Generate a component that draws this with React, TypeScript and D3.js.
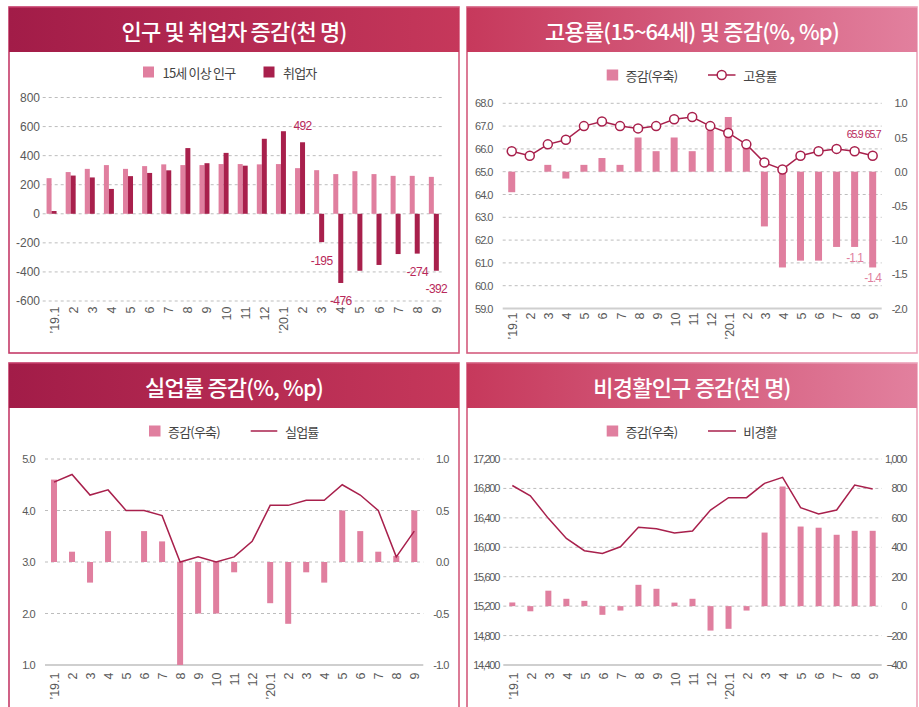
import React from 'react';
import * as d3 from 'd3';

// ---------- data ----------
const months = ['’19.1', '2', '3', '4', '5', '6', '7', '8', '9', '10', '11', '12', '’20.1', '2', '3', '4', '5', '6', '7', '8', '9'];

// panel 1: 인구 및 취업자 증감 (천 명)
const pop15 = [245, 287, 309, 335, 309, 328, 340, 335, 335, 342, 342, 340, 342, 314, 300, 273, 293, 273, 261, 261, 254];
const employed = [19, 263, 250, 171, 259, 281, 299, 452, 348, 419, 331, 516, 568, 492, -195, -476, -392, -352, -277, -274, -392];
const employedLabelIdx = [13, 14, 15, 19, 20];
const p1Ticks = [800, 600, 400, 200, 0, -200, -400, -600];

// panel 2: 고용률(15~64세) 및 증감
const empRate = [65.9, 65.7, 66.2, 66.4, 67.0, 67.2, 67.0, 66.9, 67.0, 67.3, 67.4, 67.0, 66.7, 66.2, 65.4, 65.1, 65.7, 65.9, 66.0, 65.9, 65.7];
const empRateChg = [-0.3, 0.0, 0.1, -0.1, 0.1, 0.2, 0.1, 0.5, 0.3, 0.5, 0.3, 0.6, 0.8, 0.4, -0.8, -1.4, -1.3, -1.3, -1.1, -1.1, -1.4];
const empRateLabelIdx = [19, 20];
const empChgLabelIdx = [19, 20];
const p2LeftTicks = [68, 67, 66, 65, 64, 63, 62, 61, 60, 59];
const p2RightTicks = [1.0, 0.5, 0.0, -0.5, -1.0, -1.5, -2.0];

// panel 3: 실업률 증감
const unempRate = [4.55, 4.7, 4.3, 4.4, 4.0, 4.0, 3.9, 3.0, 3.1, 3.0, 3.1, 3.4, 4.1, 4.1, 4.2, 4.2, 4.5, 4.3, 4.0, 3.1, 3.6];
const unempChg = [0.8, 0.1, -0.2, 0.3, 0.0, 0.3, 0.2, -1.0, -0.5, -0.5, -0.1, 0.0, -0.4, -0.6, -0.1, -0.2, 0.5, 0.3, 0.1, 0.06, 0.5];
const p3LeftTicks = [5, 4, 3, 2, 1];
const p3RightTicks = [1.0, 0.5, 0.0, -0.5, -1.0];

// panel 4: 비경활인구 증감 (천 명)
const inactive = [16840, 16700, 16393, 16120, 15953, 15917, 16007, 16271, 16252, 16194, 16221, 16506, 16674, 16674, 16869, 16951, 16538, 16452, 16506, 16846, 16792];
const inactiveChg = [25, -35, 105, 50, 36, -59, -30, 145, 118, 24, 50, -166, -154, -30, 500, 813, 541, 533, 485, 512, 512];
const p4LeftTicks = [17200, 16800, 16400, 16000, 15600, 15200, 14800, 14400];
const p4RightTicks = [1000, 800, 600, 400, 200, 0, -200, -400];

// ---------- styles ----------
const KR = "'Noto Sans CJK KR', 'Noto Sans', sans-serif";
const NUM = "'Liberation Sans', Arial, sans-serif";
const PINK = '#e07f9f';
const DARK = '#a8204c';
const LINE = '#a8204c';
const LABEL = '#595959';
const GRID = '#bdbdbd';
const TICK_LS = -1.0;

const idx = d3.range(months.length);

function Frame({ x, y, w, h, title }: { x: number; y: number; w: number; h: number; title: string }) {
  return (
    <g>
      <rect x={x} y={y} width={w} height={h} fill="#fff" stroke="url(#brd)" strokeWidth={1.6} />
      <rect x={x} y={y} width={w} height={45} fill="url(#hdr)" />
      <line x1={x} x2={x + w} y1={y + 0.5} y2={y + 0.5} stroke="url(#brd)" strokeWidth={1} opacity={0.8} />
      <text x={x + w / 2} y={y + 23} textAnchor="middle" dominantBaseline="central" fill="#fff"
        fontFamily={KR} fontSize={22} fontWeight={500} letterSpacing={-0.8}>{title}</text>
    </g>
  );
}

function XLabels({ x, top, dx }: { x: d3.ScaleBand<number>; top: number; dx: number }) {
  return (
    <g>
      {idx.map(i => (
        <text key={i} transform={`translate(${x(i)! + x.bandwidth() / 2 + dx},${top}) rotate(-90)`}
          textAnchor="end" dominantBaseline="central" fill={LABEL} fontFamily={NUM} fontSize={12.5}>
          {months[i]}
        </text>
      ))}
    </g>
  );
}

function Grid({ ticks, y, x1, x2, solidBottom }: { ticks: number[]; y: (v: number) => number; x1: number; x2: number; solidBottom?: number }) {
  return (
    <g>
      {ticks.map(t => (
        t === solidBottom ? (
          <line key={t} x1={x1} x2={x2} y1={y(t)} y2={y(t)} stroke="#cfcfcf" strokeWidth={1.8} />
        ) : (
          <line key={t} x1={x1} x2={x2} y1={y(t)} y2={y(t)} stroke={GRID} strokeWidth={1} strokeDasharray="3,3" />
        )
      ))}
    </g>
  );
}

function Panel1() {
  const x = d3.scaleBand<number>().domain(idx).range([42, 443.4]);
  const y = d3.scaleLinear().domain([-600, 800]).range([301, 97.5]);
  const bw = 5;
  return (
    <g>
      <Frame x={9} y={7} w={450} h={346} title="인구 및 취업자 증감(천 명)" />
      <rect x={143} y={66.5} width={11} height={11} fill={PINK} />
      <text x={162.5} y={72} dominantBaseline="central" fontFamily={KR} fontSize={13} letterSpacing={-0.8} fill="#444">15세 이상 인구</text>
      <rect x={263.5} y={66.5} width={11} height={11} fill={DARK} />
      <text x={283} y={72} dominantBaseline="central" fontFamily={KR} fontSize={13} letterSpacing={-0.8} fill="#444">취업자</text>
      <Grid ticks={p1Ticks} y={y} x1={42.7} x2={442.7} />
      {p1Ticks.map(t => (
        <text key={t} x={40} y={y(t)} textAnchor="end" dominantBaseline="central" fontFamily={NUM} fontSize={12} fill={LABEL}>{t}</text>
      ))}
      {idx.map(i => {
        const c = x(i)! + x.bandwidth() / 2;
        return (
          <g key={i}>
            <rect x={c - bw} width={bw} y={Math.min(y(0), y(pop15[i]))} height={Math.abs(y(pop15[i]) - y(0))} fill={PINK} />
            <rect x={c} width={bw} y={Math.min(y(0), y(employed[i]))} height={Math.abs(y(employed[i]) - y(0))} fill={DARK} />
          </g>
        );
      })}
      {employedLabelIdx.map(i => {
        const c = x(i)! + x.bandwidth() / 2 + bw / 2;
        const v = employed[i];
        const ly = v >= 0 ? y(v) - 16 : y(v) + 18.5;
        return (
          <text key={i} x={c} y={ly} textAnchor="middle" dominantBaseline="central" fontFamily={NUM} fontSize={12} letterSpacing={-0.6} fill="#b8285a">{v}</text>
        );
      })}
      <XLabels x={x} top={306.5} dx={3} />
    </g>
  );
}

function Panel2() {
  const x = d3.scaleBand<number>().domain(idx).range([502.7, 881.7]);
  const yL = d3.scaleLinear().domain([59, 68]).range([308.5, 103.3]);
  const yR = d3.scaleLinear().domain([-2, 1]).range([308.5, 103.3]);
  const bw = 7;
  const cx = (i: number) => x(i)! + x.bandwidth() / 2;
  const line = d3.line<number>().x(i => cx(i)).y(i => yL(empRate[i]));
  const rateLabelY = Math.min(...empRateLabelIdx.map(i => yL(empRate[i]))) - 16.7;
  return (
    <g>
      <Frame x={467} y={7} w={450} h={346} title="고용률(15~64세) 및 증감(%, %p)" />
      <rect x={606.7} y={69.5} width={11.5} height={11} fill={PINK} />
      <text x={625.5} y={75} dominantBaseline="central" fontFamily={KR} fontSize={13} letterSpacing={-0.8} fill="#444">증감(우축)</text>
      <line x1={708} x2={735.5} y1={75} y2={75} stroke={LINE} strokeWidth={1.5} />
      <circle cx={721.7} cy={75} r={4.5} fill="#fff" stroke={LINE} strokeWidth={1.5} />
      <text x={743.3} y={75} dominantBaseline="central" fontFamily={KR} fontSize={13} letterSpacing={-0.8} fill="#444">고용률</text>
      <Grid ticks={p2LeftTicks} y={yL} x1={502.7} x2={881.7} solidBottom={59} />
      {p2LeftTicks.map(t => (
        <text key={t} x={492.5} y={yL(t)} textAnchor="end" dominantBaseline="central" fontFamily={NUM} fontSize={11} letterSpacing={TICK_LS} fill={LABEL}>{t.toFixed(1)}</text>
      ))}
      {p2RightTicks.map(t => (
        <text key={t} x={906.7} y={yR(t)} textAnchor="end" dominantBaseline="central" fontFamily={NUM} fontSize={11} letterSpacing={TICK_LS} fill={LABEL}>{t.toFixed(1)}</text>
      ))}
      {idx.map(i => (
        <rect key={i} x={cx(i) - bw / 2} width={bw} y={Math.min(yR(0), yR(empRateChg[i]))} height={Math.abs(yR(empRateChg[i]) - yR(0))} fill={PINK} />
      ))}
      <path d={line(idx) || ''} fill="none" stroke={LINE} strokeWidth={1.5} />
      {idx.map(i => (
        <circle key={i} cx={cx(i)} cy={yL(empRate[i])} r={4.5} fill="#fff" stroke={LINE} strokeWidth={1.5} />
      ))}
      {empChgLabelIdx.map(i => (
        <text key={i} x={cx(i)} y={yR(empRateChg[i]) + 10.6} textAnchor="middle" dominantBaseline="central" fontFamily={NUM} fontSize={12} letterSpacing={-1} fill={PINK}>{empRateChg[i].toFixed(1)}</text>
      ))}
      {empRateLabelIdx.map(i => (
        <text key={i} x={cx(i)} y={rateLabelY} textAnchor="middle" dominantBaseline="central" fontFamily={NUM} fontSize={10.5} letterSpacing={-1.2} fill="#b8285a">{empRate[i].toFixed(1)}</text>
      ))}
      <XLabels x={x} top={312.5} dx={1.5} />
    </g>
  );
}

function Panel3() {
  const x = d3.scaleBand<number>().domain(idx).range([45, 423.3]);
  const yL = d3.scaleLinear().domain([1, 5]).range([665, 459]);
  const yR = d3.scaleLinear().domain([-1, 1]).range([665, 459]);
  const bw = 6;
  const cx = (i: number) => x(i)! + x.bandwidth() / 2;
  const line = d3.line<number>().x(i => cx(i)).y(i => yL(unempRate[i]));
  return (
    <g>
      <Frame x={9} y={363} w={450} h={360} title="실업률 증감(%, %p)" />
      <rect x={149} y={425.5} width={11.5} height={11} fill={PINK} />
      <text x={168} y={431} dominantBaseline="central" fontFamily={KR} fontSize={13} letterSpacing={-0.8} fill="#444">증감(우축)</text>
      <line x1={250.7} x2={277.3} y1={431} y2={431} stroke={LINE} strokeWidth={1.5} />
      <text x={285} y={431} dominantBaseline="central" fontFamily={KR} fontSize={13} letterSpacing={-0.8} fill="#444">실업률</text>
      <Grid ticks={p3LeftTicks} y={yL} x1={45} x2={423.3} solidBottom={1} />
      {p3LeftTicks.map(t => (
        <text key={t} x={34.5} y={yL(t)} textAnchor="end" dominantBaseline="central" fontFamily={NUM} fontSize={11} letterSpacing={TICK_LS} fill={LABEL}>{t.toFixed(1)}</text>
      ))}
      {p3RightTicks.map(t => (
        <text key={t} x={448.3} y={yR(t)} textAnchor="end" dominantBaseline="central" fontFamily={NUM} fontSize={11} letterSpacing={TICK_LS} fill={LABEL}>{t.toFixed(1)}</text>
      ))}
      {idx.map(i => (
        <rect key={i} x={cx(i) - bw / 2} width={bw} y={Math.min(yR(0), yR(unempChg[i]))} height={Math.abs(yR(unempChg[i]) - yR(0))} fill={PINK} />
      ))}
      <path d={line(idx) || ''} fill="none" stroke={LINE} strokeWidth={1.5} />
      <XLabels x={x} top={672.5} dx={1} />
    </g>
  );
}

function Panel4() {
  const x = d3.scaleBand<number>().domain(idx).range([503.3, 881.7]);
  const yL = d3.scaleLinear().domain([14400, 17200]).range([665, 459]);
  const yR = d3.scaleLinear().domain([-400, 1000]).range([665, 459]);
  const bw = 6;
  const cx = (i: number) => x(i)! + x.bandwidth() / 2;
  const line = d3.line<number>().x(i => cx(i)).y(i => yL(inactive[i]));
  const fmt = d3.format(',');
  return (
    <g>
      <Frame x={467} y={363} w={450} h={360} title="비경활인구 증감(천 명)" />
      <rect x={606.7} y={425.5} width={11.5} height={11} fill={PINK} />
      <text x={625.5} y={431} dominantBaseline="central" fontFamily={KR} fontSize={13} letterSpacing={-0.8} fill="#444">증감(우축)</text>
      <line x1={708} x2={736} y1={431} y2={431} stroke={LINE} strokeWidth={1.5} />
      <text x={743.3} y={431} dominantBaseline="central" fontFamily={KR} fontSize={13} letterSpacing={-0.8} fill="#444">비경활</text>
      <Grid ticks={p4LeftTicks} y={yL} x1={503.3} x2={881.7} solidBottom={14400} />
      {p4LeftTicks.map(t => (
        <text key={t} x={499} y={yL(t)} textAnchor="end" dominantBaseline="central" fontFamily={NUM} fontSize={11} letterSpacing={-1.3} fill={LABEL}>{fmt(t)}</text>
      ))}
      {p4RightTicks.map(t => (
        <text key={t} x={906} y={yR(t)} textAnchor="end" dominantBaseline="central" fontFamily={NUM} fontSize={11} letterSpacing={-1.3} fill={LABEL}>{fmt(t)}</text>
      ))}
      {idx.map(i => (
        <rect key={i} x={cx(i) - bw / 2} width={bw} y={Math.min(yR(0), yR(inactiveChg[i]))} height={Math.abs(yR(inactiveChg[i]) - yR(0))} fill={PINK} />
      ))}
      <path d={line(idx) || ''} fill="none" stroke={LINE} strokeWidth={1.5} />
      <XLabels x={x} top={672.5} dx={1.5} />
    </g>
  );
}

export default function App() {
  return (
    <svg width={919} height={707} style={{ position: 'absolute', left: 0, top: 0, background: '#fff' }}>
      <defs>
        <linearGradient id="hdr" gradientUnits="userSpaceOnUse" x1={9} y1={0} x2={917} y2={0}>
          <stop offset="0" stopColor="#a21c48" />
          <stop offset="0.5" stopColor="#c6385b" />
          <stop offset="1" stopColor="#e2809e" />
        </linearGradient>
        <linearGradient id="brd" gradientUnits="userSpaceOnUse" x1={9} y1={0} x2={917} y2={0}>
          <stop offset="0" stopColor="#c43a68" />
          <stop offset="0.5" stopColor="#d35a7c" />
          <stop offset="1" stopColor="#eca3ba" />
        </linearGradient>
      </defs>
      <rect x={0} y={0} width={919} height={707} fill="#fff" />
      <Panel1 />
      <Panel2 />
      <Panel3 />
      <Panel4 />
    </svg>
  );
}
